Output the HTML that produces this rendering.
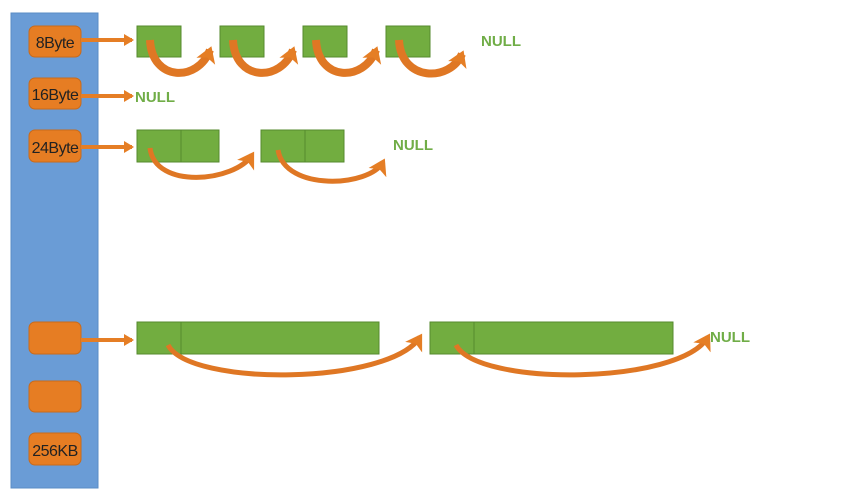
<!DOCTYPE html>
<html><head><meta charset="utf-8"><style>
html,body{margin:0;padding:0;background:#fff;width:856px;height:499px;overflow:hidden}
text{font-family:"Liberation Sans",sans-serif}
</style></head><body>
<svg width="856" height="499" viewBox="0 0 856 499" xmlns="http://www.w3.org/2000/svg">
<defs>
<marker id="h" markerUnits="userSpaceOnUse" markerWidth="22" markerHeight="22" refX="12" refY="11" orient="auto">
<path d="M0,1 L16,11 L0,21 L4,11 Z" fill="#e57e25"/>
</marker>
<marker id="s" markerUnits="userSpaceOnUse" markerWidth="10" markerHeight="12" refX="8" refY="6" orient="auto">
<path d="M0,0 L10,6 L0,12 Z" fill="#e57e25"/>
</marker>
</defs>
<rect x="11" y="13" width="87" height="475" fill="#6a9cd6" stroke="#5a8cc6"/>
<g fill="#e67d23" stroke="#c96a1a" stroke-width="1">
<rect x="29" y="26" width="52" height="31" rx="6"/>
<rect x="29" y="78" width="52" height="31" rx="6"/>
<rect x="29" y="130" width="52" height="32" rx="6"/>
<rect x="29" y="322" width="52" height="32" rx="6"/>
<rect x="29" y="381" width="52" height="31" rx="6"/>
<rect x="29" y="433" width="52" height="32" rx="6"/>
</g>
<g font-size="16" fill="#222" text-anchor="middle" style="letter-spacing:-0.5px">
<text x="55" y="48">8Byte</text>
<text x="55" y="100">16Byte</text>
<text x="55" y="153">24Byte</text>
<text x="55" y="456">256KB</text>
</g>
<g stroke="#e57e25" stroke-width="4" marker-end="url(#s)">
<line x1="81" y1="40" x2="132" y2="40"/>
<line x1="81" y1="96" x2="132" y2="96"/>
<line x1="81" y1="147" x2="132" y2="147"/>
<line x1="81" y1="340" x2="132" y2="340"/>
</g>
<g fill="#72ad40" stroke="#558a2e" stroke-width="1">
<rect x="137" y="26" width="44" height="31"/>
<rect x="220" y="26" width="44" height="31"/>
<rect x="303" y="26" width="44" height="31"/>
<rect x="386" y="26" width="44" height="31"/>
<rect x="137" y="130" width="44" height="32"/>
<rect x="181" y="130" width="38" height="32"/>
<rect x="261" y="130" width="44" height="32"/>
<rect x="305" y="130" width="39" height="32"/>
<rect x="137" y="322" width="44" height="32"/>
<rect x="181" y="322" width="198" height="32"/>
<rect x="430" y="322" width="44" height="32"/>
<rect x="474" y="322" width="199" height="32"/>
</g>
<g fill="none" stroke="#df7724" stroke-width="8" marker-end="url(#h)">
<path d="M150,40 C152,82 198,82 210,50"/>
<path d="M233,40 C235,82 281,82 293,50"/>
<path d="M316,40 C318,82 364,82 376,50"/>
<path d="M399,40 C401,82 450,82 462,54"/>
</g>
<g fill="none" stroke="#df7724" stroke-width="5" marker-end="url(#h)">
<path d="M150,148 C155,190 235,182 252,155"/>
<path d="M278,150 C285,192 370,187 383,162"/>
<path d="M168,345 C190,387 390,385 420,337"/>
<path d="M456,345 C478,387 680,385 708,337"/>
</g>
<g font-size="15" font-weight="bold" fill="#70ad47" style="font-family:'DejaVu Sans',sans-serif">
<text x="481" y="46">NULL</text>
<text x="135" y="102">NULL</text>
<text x="393" y="150">NULL</text>
<text x="710" y="342">NULL</text>
</g>
</svg>
</body></html>
